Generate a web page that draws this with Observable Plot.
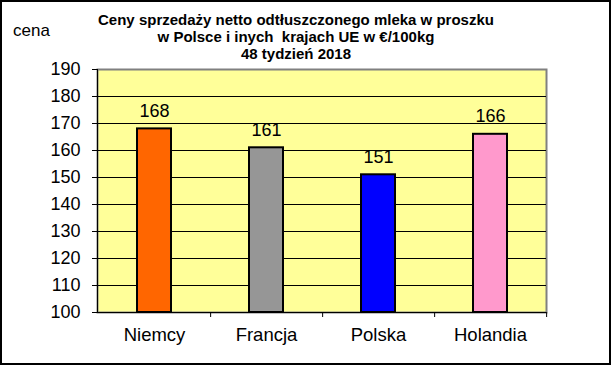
<!DOCTYPE html>
<html>
<head>
<meta charset="utf-8">
<script src="https://cdn.jsdelivr.net/npm/d3@7"></script>
<script src="https://cdn.jsdelivr.net/npm/@observablehq/plot@0.6"></script>
<style>
  html, body { margin: 0; padding: 0; background: #fff; }
  #wrap { position: relative; width: 612px; height: 366px; overflow: hidden; font-family: "Liberation Sans", Arial, sans-serif; }
  #border { position: absolute; left: 0; top: 0; width: 611px; height: 365px; box-sizing: border-box; border: 2px solid #000; pointer-events: none; }
  #title { position: absolute; left: 86px; width: 420px; top: 11px; text-align: center; font-weight: bold; font-size: 15px; line-height: 17px; color: #000; }
  #ylabel { position: absolute; left: 13px; top: 21px; font-size: 17px; color: #000; }
  svg { position: absolute; left: 0; top: 0; }
</style>
</head>
<body>
<div id="wrap">
  <div id="title">Ceny sprzedaży netto odtłuszczonego mleka w proszku<br>w Polsce i inych&nbsp; krajach UE w €/100kg<br>48 tydzień 2018</div>
  <div id="ylabel">cena</div>
  <div id="border"></div>
</div>
<script>
const categories = ["Niemcy", "Francja", "Polska", "Holandia"];
const values = [168, 161, 151, 166];
const colors = ["#FF6600", "#969696", "#0000FF", "#FF99CC"];
const yTicks = [100, 110, 120, 130, 140, 150, 160, 170, 180, 190];

const data = categories.map((c, i) => ({country: c, value: values[i], color: colors[i]}));

const chart = Plot.plot({
  width: 612,
  height: 366,
  marginLeft: 97,
  marginRight: 66,
  marginTop: 69,
  marginBottom: 54,
  style: {fontFamily: "'Liberation Sans', Arial, sans-serif", background: "transparent", overflow: "visible"},
  x: {domain: categories, padding: 0, axis: null},
  y: {domain: [100, 190], axis: null},
  marks: [
    Plot.frame({fill: "#FFFF99", stroke: "#808080", strokeWidth: 2}),
    Plot.ruleY(yTicks.slice(1, -1), {stroke: "#000", strokeWidth: 1}),
    Plot.barY(data, {x: "country", y1: 100, y2: "value", fill: "color", stroke: "#000", strokeWidth: 2, insetLeft: 39, insetRight: 39}),
    Plot.text(data, {x: "country", y: "value", text: d => String(d.value), lineAnchor: "bottom", dy: -12, fontSize: 18, fill: "#000"}),
    Plot.frame({anchor: "left", stroke: "#000", strokeWidth: 1}),
    Plot.ruleY([100], {stroke: "#000", strokeWidth: 1}),
    Plot.axisY({ticks: yTicks, tickSize: 5, tickPadding: 12, fontSize: 18, stroke: "#000", tickFormat: d => String(d), color: "#000", label: null}),
    Plot.axisX({tickSize: 5, dx: 56.125, text: null, stroke: "#000", label: null}),
    Plot.axisX({tickSize: 0, tickPadding: 15, fontSize: 18.5, color: "#000", label: null})
  ]
});
document.getElementById("wrap").insertBefore(chart, document.getElementById("title"));
</script>
</body>
</html>
